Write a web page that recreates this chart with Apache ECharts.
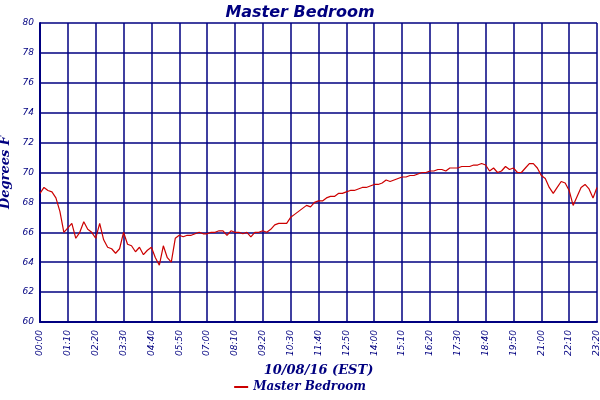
<!DOCTYPE html>
<html>
<head>
<meta charset="utf-8">
<script src="https://cdn.jsdelivr.net/npm/echarts@6/dist/echarts.min.js"></script>
<style>html,body{margin:0;padding:0;background:#fff}#chart{width:600px;height:400px}</style>
</head>
<body>
<div id="chart"></div>
<script>
var title = 'Master Bedroom';
var seriesName = 'Master Bedroom';
// minutes after midnight, one reading every 10 min
var minutes = [];
for (var m = 0; m <= 1400; m += 10) minutes.push(m);
var temps = [
  68.6, 69.0, 68.8, 68.7, 68.3, 67.4, 66.0, 66.3, 66.6, 65.6,
  66.0, 66.7, 66.2, 66.0, 65.6, 66.6, 65.5, 65.0, 64.9, 64.6,
  64.9, 66.0, 65.2, 65.1, 64.7, 65.0, 64.5, 64.8, 65.0, 64.3,
  63.8, 65.1, 64.3, 64.0, 65.6, 65.8, 65.7, 65.8, 65.8, 65.9,
  66.0, 65.9, 65.9, 66.0, 66.0, 66.1, 66.1, 65.8, 66.1, 66.0,
  66.0, 65.9, 66.0, 65.7, 66.0, 66.0, 66.1, 66.0, 66.2, 66.5,
  66.6, 66.6, 66.6, 67.0, 67.2, 67.4, 67.6, 67.8, 67.7, 68.0,
  68.1, 68.1, 68.3, 68.4, 68.4, 68.6, 68.6, 68.7, 68.8, 68.8,
  68.9, 69.0, 69.0, 69.1, 69.2, 69.2, 69.3, 69.5, 69.4, 69.5,
  69.6, 69.7, 69.7, 69.8, 69.8, 69.9, 70.0, 70.0, 70.1, 70.1,
  70.2, 70.2, 70.1, 70.3, 70.3, 70.3, 70.4, 70.4, 70.4, 70.5,
  70.5, 70.6, 70.5, 70.1, 70.3, 70.0, 70.1, 70.4, 70.2, 70.3,
  70.0, 70.0, 70.3, 70.6, 70.6, 70.3, 69.8, 69.6, 69.0, 68.6,
  69.0, 69.4, 69.3, 68.8, 67.8, 68.4, 69.0, 69.2, 68.9, 68.3,
  69.0
];
var xName = '10/08/16 (EST)';
var yName = 'Degrees F';

var navy = '#000080';
var data = [];
for (var i = 0; i < minutes.length; i++) data.push([minutes[i], temps[i]]);

function hhmm(v) {
    var h = Math.floor(v / 60), mm = v % 60;
    return (h < 10 ? '0' : '') + h + ':' + (mm < 10 ? '0' : '') + mm;
}

var option = {
    animation: false,
    title: {
        text: title, left: 'center', top: 0,
        textStyle: { color: navy, fontFamily: 'DejaVu Sans', fontStyle: 'italic', fontWeight: 'bold', fontSize: 16 }
    },
    legend: {
        bottom: 2, left: 'center', data: [seriesName],
        icon: 'rect', itemWidth: 14, itemHeight: 2,
        textStyle: { color: navy, fontFamily: 'DejaVu Serif', fontStyle: 'italic', fontWeight: 'bold', fontSize: 12 }
    },
    grid: { left: 40, right: 3, top: 23, bottom: 78, containLabel: false, outerBoundsMode: 'none' },
    xAxis: {
        type: 'value', min: 0, max: 1400, interval: 70,
        name: xName, nameLocation: 'middle', nameGap: 32,
        nameTextStyle: { color: navy, fontFamily: 'DejaVu Serif', fontStyle: 'italic', fontWeight: 'bold', fontSize: 13 },
        axisLine: { lineStyle: { color: navy, width: 2 } },
        axisTick: { show: false },
        axisLabel: { rotate: 90, color: navy, fontSize: 9, fontFamily: 'DejaVu Sans', fontStyle: 'italic', formatter: hhmm, showMaxLabel: true },
        splitLine: { lineStyle: { color: navy, width: 1.5 } }
    },
    yAxis: {
        type: 'value', min: 60, max: 80, interval: 2,
        name: yName, nameLocation: 'middle', nameGap: 24,
        nameTextStyle: { color: navy, fontFamily: 'DejaVu Serif', fontStyle: 'italic', fontWeight: 'bold', fontSize: 13 },
        axisLine: { show: true, lineStyle: { color: navy, width: 2 } },
        axisTick: { show: false },
        axisLabel: { color: navy, fontSize: 9, fontFamily: 'DejaVu Sans', fontStyle: 'italic', margin: 6 },
        splitLine: { lineStyle: { color: navy, width: 1.5 } }
    },
    series: [{
        name: seriesName, type: 'line', symbol: 'none',
        lineStyle: { color: '#cc0000', width: 1.2 }, itemStyle: { color: '#cc0000' },
        data: data
    }]
};
echarts.init(document.getElementById('chart')).setOption(option);
</script>
</body>
</html>
